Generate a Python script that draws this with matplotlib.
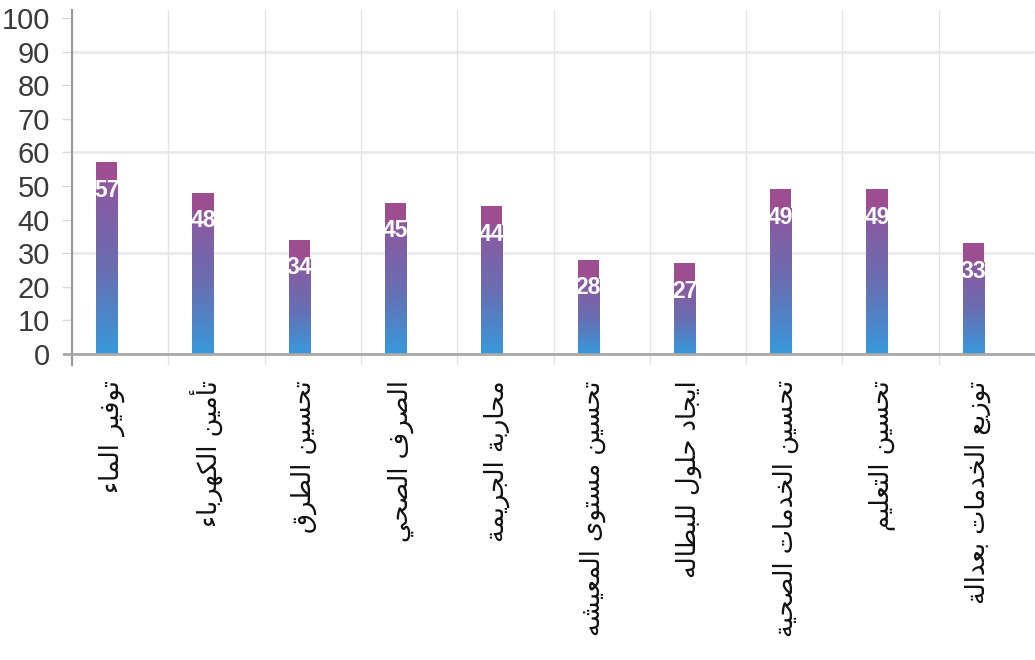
import numpy as np
import matplotlib
matplotlib.use('Agg')
import matplotlib.pyplot as plt
from matplotlib.colors import LinearSegmentedColormap

categories = ['توفير الماء', 'تأمين الكهرباء', 'تحسين الطرق', 'الصرف الصحي',
              'محاربة الجريمة', 'تحسين مستوى المعيشه', 'ايجاد حلول للبطاله',
              'تحسين الخدمات الصحية', 'تحسين التعليم', 'توزيع الخدمات بعدالة']
values = [57, 48, 34, 45, 44, 28, 27, 49, 49, 33]
y_ticks = list(range(0, 101, 10))

# Arabic presentation forms: (isolated, final, initial, medial)
FORMS = {
    'ء': ('\uFE80',),
    'آ': ('\uFE81', '\uFE82'), 'أ': ('\uFE83', '\uFE84'), 'ؤ': ('\uFE85', '\uFE86'),
    'إ': ('\uFE87', '\uFE88'), 'ئ': ('\uFE89', '\uFE8A', '\uFE8B', '\uFE8C'),
    'ا': ('\uFE8D', '\uFE8E'), 'ب': ('\uFE8F', '\uFE90', '\uFE91', '\uFE92'),
    'ة': ('\uFE93', '\uFE94'), 'ت': ('\uFE95', '\uFE96', '\uFE97', '\uFE98'),
    'ث': ('\uFE99', '\uFE9A', '\uFE9B', '\uFE9C'), 'ج': ('\uFE9D', '\uFE9E', '\uFE9F', '\uFEA0'),
    'ح': ('\uFEA1', '\uFEA2', '\uFEA3', '\uFEA4'), 'خ': ('\uFEA5', '\uFEA6', '\uFEA7', '\uFEA8'),
    'د': ('\uFEA9', '\uFEAA'), 'ذ': ('\uFEAB', '\uFEAC'), 'ر': ('\uFEAD', '\uFEAE'),
    'ز': ('\uFEAF', '\uFEB0'), 'س': ('\uFEB1', '\uFEB2', '\uFEB3', '\uFEB4'),
    'ش': ('\uFEB5', '\uFEB6', '\uFEB7', '\uFEB8'), 'ص': ('\uFEB9', '\uFEBA', '\uFEBB', '\uFEBC'),
    'ض': ('\uFEBD', '\uFEBE', '\uFEBF', '\uFEC0'), 'ط': ('\uFEC1', '\uFEC2', '\uFEC3', '\uFEC4'),
    'ظ': ('\uFEC5', '\uFEC6', '\uFEC7', '\uFEC8'), 'ع': ('\uFEC9', '\uFECA', '\uFECB', '\uFECC'),
    'غ': ('\uFECD', '\uFECE', '\uFECF', '\uFED0'), 'ف': ('\uFED1', '\uFED2', '\uFED3', '\uFED4'),
    'ق': ('\uFED5', '\uFED6', '\uFED7', '\uFED8'), 'ك': ('\uFED9', '\uFEDA', '\uFEDB', '\uFEDC'),
    'ل': ('\uFEDD', '\uFEDE', '\uFEDF', '\uFEE0'), 'م': ('\uFEE1', '\uFEE2', '\uFEE3', '\uFEE4'),
    'ن': ('\uFEE5', '\uFEE6', '\uFEE7', '\uFEE8'), 'ه': ('\uFEE9', '\uFEEA', '\uFEEB', '\uFEEC'),
    'و': ('\uFEED', '\uFEEE'), 'ى': ('\uFEEF', '\uFEF0'),
    'ي': ('\uFEF1', '\uFEF2', '\uFEF3', '\uFEF4'),
}
LAM_ALEF = {'آ': ('\uFEF5', '\uFEF6'), 'أ': ('\uFEF7', '\uFEF8'),
            'إ': ('\uFEF9', '\uFEFA'), 'ا': ('\uFEFB', '\uFEFC')}


def shape_arabic(text):
    # join letters into contextual forms, then lay them out right-to-left
    out = []
    i = 0
    n = len(text)
    while i < n:
        ch = text[i]
        forms = FORMS.get(ch)
        if forms is None:
            out.append(ch)
            i += 1
            continue
        prev = text[i - 1] if i > 0 else ''
        joins_prev = prev in FORMS and len(FORMS[prev]) == 4
        nxt = text[i + 1] if i + 1 < n else ''
        if ch == 'ل' and nxt in LAM_ALEF:
            out.append(LAM_ALEF[nxt][1 if joins_prev else 0])
            i += 2
            continue
        joins_next = len(forms) == 4 and nxt in FORMS and len(FORMS[nxt]) > 1
        if joins_prev and joins_next:
            out.append(forms[3])
        elif joins_prev:
            out.append(forms[1] if len(forms) > 1 else forms[0])
        elif joins_next:
            out.append(forms[2])
        else:
            out.append(forms[0])
        i += 1
    return ''.join(reversed(out))


fig = plt.figure(figsize=(10.35, 6.6), dpi=100)
# axes spans pixel rows 10..365 and columns 72..1035
ax = fig.add_axes([72 / 1035, (660 - 365) / 660, (1035 - 72) / 1035, 355 / 660])
ax.set_ylim(-3.3, 102.4)
ax.set_xlim(-0.5, 9.46)

x = np.arange(len(values))
bar_x = x - 0.14
bar_w = 0.22

grad = LinearSegmentedColormap.from_list('bar', ['#3799dc', '#6a6db1', '#8e589f'])
cap_col = '#9d4e91'
cap_h = 5.8

for xi, v in zip(bar_x, values):
    g = np.linspace(0, 1, 256).reshape(-1, 1)
    ax.imshow(g, cmap=grad, origin='lower', aspect='auto', zorder=3,
              extent=[xi - bar_w / 2, xi + bar_w / 2, 0, v - cap_h])
    ax.bar(xi, cap_h, bottom=v - cap_h, width=bar_w, color=cap_col, zorder=3, linewidth=0)
    ax.annotate(str(v), (xi, v), xytext=(0, -28), textcoords='offset pixels',
                ha='center', va='center', color='white', fontsize=16.5, fontweight='bold',
                family=['Liberation Sans', 'DejaVu Sans'], zorder=4)

# grid: category boundaries and every third decade
ax.set_xticks(np.arange(-0.5, 10, 1), minor=True)
ax.grid(True, which='minor', axis='x', color='#e4e4e4', linewidth=1)
for gy in [30, 60, 90]:
    ax.axhline(gy, color='#eaeaea', linewidth=2, zorder=0)

ax.plot([-0.008, 1], [0, 0], transform=ax.get_yaxis_transform(), color='#a8a8a8',
        linewidth=2, clip_on=False, zorder=5)

ax.set_xticks(bar_x + 0.05)
ax.set_xticklabels([shape_arabic(c) for c in categories], rotation=90,
                   fontsize=18.5, family='DejaVu Sans', color='#111111')
ax.tick_params(axis='x', which='both', length=0, pad=11)

ax.set_yticks(y_ticks)
ax.set_yticklabels([str(t) for t in y_ticks], fontsize=21,
                   family=['Liberation Sans', 'DejaVu Sans'], color='#3a3a3a')
ax.tick_params(axis='y', length=7, color='#d8d8d8', width=1, pad=9)

for side in ['top', 'right', 'bottom']:
    ax.spines[side].set_visible(False)
ax.spines['left'].set_color('#999999')
ax.spines['left'].set_linewidth(1.5)

fig.savefig('out.png', dpi=100)
